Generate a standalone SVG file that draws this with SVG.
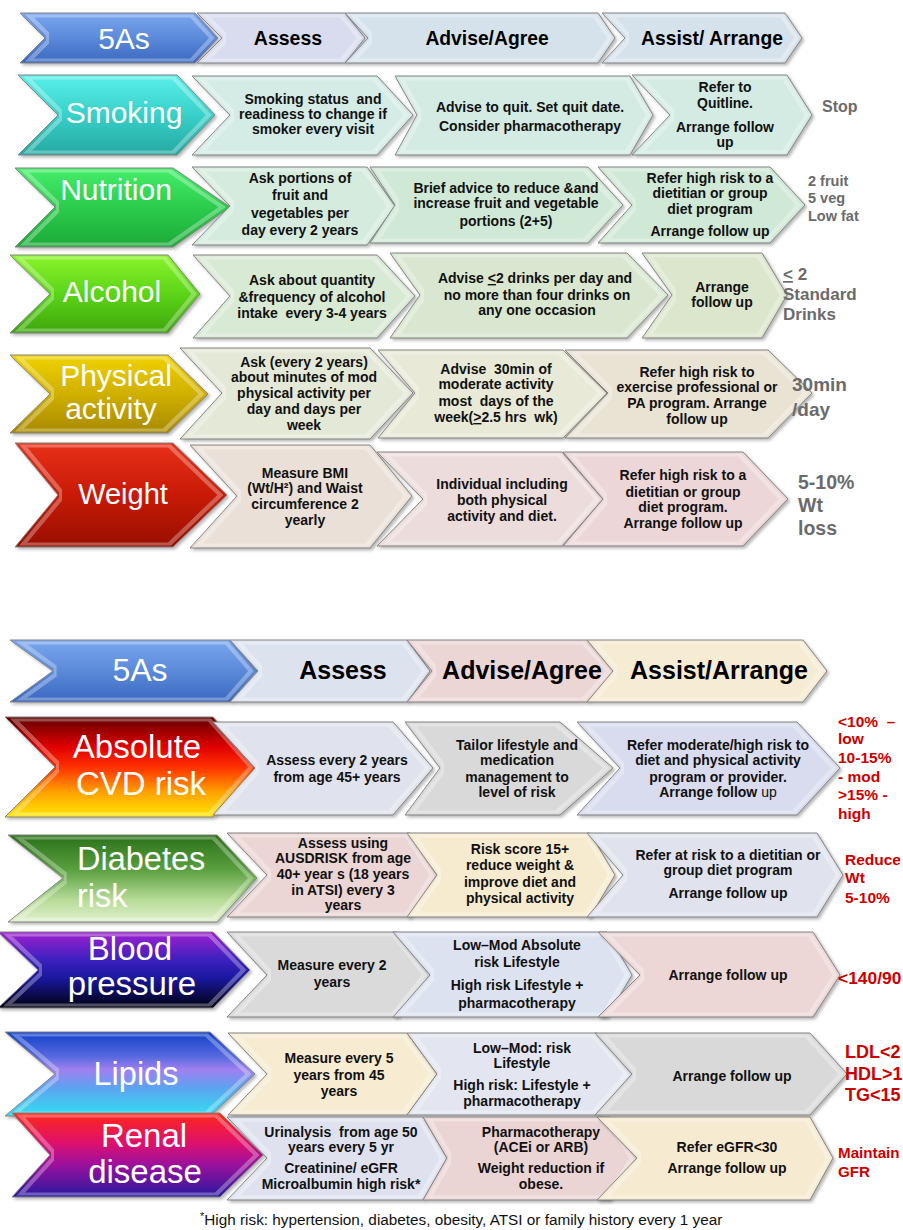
<svg xmlns="http://www.w3.org/2000/svg" width="903" height="1230" viewBox="0 0 903 1230">
<defs>
<style>
.cell{stroke:#858585;stroke-width:1;filter:url(#bv)}
.lab{font-family:"Liberation Sans",Arial,sans-serif;fill:#fff;text-anchor:middle}
.t{font-family:"Liberation Sans",Arial,sans-serif;font-weight:bold;fill:#111;text-anchor:middle;font-size:14px}
.hd{font-family:"Liberation Sans",Arial,sans-serif;font-weight:bold;fill:#000;text-anchor:middle}
.g{font-family:"Liberation Sans",Arial,sans-serif;font-weight:bold;fill:#6b6b6b}
.r{font-family:"Liberation Sans",Arial,sans-serif;font-weight:bold;fill:#cc0000}
.fn{font-family:"Liberation Sans",Arial,sans-serif;fill:#111;font-size:15.3px}
</style>
<filter id="bv" x="-4%" y="-6%" width="110%" height="118%" color-interpolation-filters="sRGB">
<feMorphology in="SourceAlpha" operator="erode" radius="1.5" result="e1"/>
<feMorphology in="SourceAlpha" operator="erode" radius="4.5" result="e2"/>
<feComposite in="e1" in2="e2" operator="out" result="ring"/>
<feFlood flood-color="#ffffff" flood-opacity="0.3"/>
<feComposite in2="ring" operator="in" result="hl"/>
<feOffset in="SourceAlpha" dx="1.5" dy="2" result="o"/>
<feGaussianBlur in="o" stdDeviation="1.5" result="ob"/>
<feFlood flood-color="#000" flood-opacity="0.28"/>
<feComposite in2="ob" operator="in" result="sh"/>
<feMerge><feMergeNode in="sh"/><feMergeNode in="SourceGraphic"/><feMergeNode in="hl"/></feMerge>
</filter>
<linearGradient id="gBlue" x1="0" y1="0" x2="0" y2="1"><stop offset="0" stop-color="#7aa6ee"/><stop offset="0.5" stop-color="#5b8ada"/><stop offset="1" stop-color="#3a68c0"/></linearGradient>
<linearGradient id="gTeal" x1="0" y1="0" x2="0" y2="1"><stop offset="0" stop-color="#5af0ea"/><stop offset="0.5" stop-color="#38d0c8"/><stop offset="1" stop-color="#25a8a2"/></linearGradient>
<linearGradient id="gGreen" x1="0" y1="0" x2="0" y2="1"><stop offset="0" stop-color="#45ee6a"/><stop offset="0.5" stop-color="#2ccc4c"/><stop offset="1" stop-color="#1caa38"/></linearGradient>
<linearGradient id="gLime" x1="0" y1="0" x2="0" y2="1"><stop offset="0" stop-color="#8af42a"/><stop offset="0.5" stop-color="#5cd418"/><stop offset="1" stop-color="#3ea60c"/></linearGradient>
<linearGradient id="gGold" x1="0" y1="0" x2="0" y2="1"><stop offset="0" stop-color="#f0d200"/><stop offset="0.5" stop-color="#d0b000"/><stop offset="1" stop-color="#a88a00"/></linearGradient>
<linearGradient id="gRed" x1="0" y1="0" x2="0" y2="1"><stop offset="0" stop-color="#e83018"/><stop offset="0.5" stop-color="#c81a06"/><stop offset="1" stop-color="#980e00"/></linearGradient>
<linearGradient id="gCVD" x1="0" y1="0" x2="0" y2="1"><stop offset="0" stop-color="#600000"/><stop offset="0.3" stop-color="#e00000"/><stop offset="0.5" stop-color="#ff3000"/><stop offset="0.75" stop-color="#ffa000"/><stop offset="1" stop-color="#ffe800"/></linearGradient>
<linearGradient id="gDiab" x1="0" y1="0" x2="0" y2="1"><stop offset="0" stop-color="#2a7018"/><stop offset="0.4" stop-color="#5aa040"/><stop offset="0.75" stop-color="#b8dc98"/><stop offset="1" stop-color="#e0f0cc"/></linearGradient>
<linearGradient id="gBP" x1="0" y1="0" x2="0" y2="1"><stop offset="0" stop-color="#a020d0"/><stop offset="0.35" stop-color="#4020c0"/><stop offset="0.6" stop-color="#1a18a0"/><stop offset="1" stop-color="#000010"/></linearGradient>
<linearGradient id="gLip" x1="0" y1="0" x2="0" y2="1"><stop offset="0" stop-color="#1040c8"/><stop offset="0.3" stop-color="#5a6ae0"/><stop offset="0.45" stop-color="#a080f0"/><stop offset="0.65" stop-color="#60a0f0"/><stop offset="1" stop-color="#30e0f0"/></linearGradient>
<linearGradient id="gRen" x1="0" y1="0" x2="0" y2="1"><stop offset="0" stop-color="#ff2818"/><stop offset="0.35" stop-color="#e0106c"/><stop offset="0.6" stop-color="#a0109c"/><stop offset="1" stop-color="#2818a0"/></linearGradient>
</defs>
<rect width="903" height="1230" fill="#fff"/>

<!-- TOP SECTION -->
<g id="top-5as"><polygon class="cell" fill="url(#gBlue)" points="20,13 195,13 218,38 195,63 20,63 45,38"/><text class="lab" x="124" y="49" font-size="30">5As</text></g>
<g id="top-assess"><polygon class="cell" fill="#d8dcee" points="197,13 345,13 365,38 345,63 197,63 222,38"/><text class="hd" x="288" y="45" font-size="19.5">Assess</text></g>
<g id="top-advise"><polygon class="cell" fill="#d6e2eb" points="345,13 598,13 615,38 598,63 345,63 368,38"/><text class="hd" x="487" y="45" font-size="19.3">Advise/Agree</text></g>
<g id="top-assist"><polygon class="cell" fill="#d6e2eb" points="602,13 785,13 802,38 785,63 602,63 625,38"/><text class="hd" x="712" y="45" font-size="19.3">Assist/ Arrange</text></g>

<g id="smoking"><polygon class="cell" fill="url(#gTeal)" points="18,75 177,75 215,115 177,155 18,155 58,115"/><text class="lab" x="124" y="123" font-size="30">Smoking</text></g>
<g id="smoking-assess"><polygon class="cell" fill="#d4ebe6" points="192,76 377,76 413,115 377,155 192,155 230,115"/><text class="t" xml:space="preserve" font-size="14.3"><tspan x="313" y="104">Smoking status  and</tspan><tspan x="313" y="119">readiness to change if</tspan><tspan x="313" y="134">smoker every visit</tspan></text></g>
<g id="smoking-advise"><polygon class="cell" fill="#d3ebe2" points="395,76 630,76 653,115 630,155 395,155 417,115"/><text class="t" font-size="14.2"><tspan x="530" y="112">Advise to quit. Set quit date.</tspan><tspan x="530" y="131">Consider pharmacotherapy</tspan></text></g>
<g id="smoking-assist"><polygon class="cell" fill="#d3ebe2" points="632,75 787,75 812,115 787,155 632,155 670,115"/><text class="t" font-size="14.3"><tspan x="725" y="92">Refer to</tspan><tspan x="725" y="108">Quitline.</tspan><tspan x="725" y="132">Arrange follow</tspan><tspan x="725" y="147">up</tspan></text></g>
<text class="g" x="822" y="112" font-size="16">Stop</text>

<g id="nutrition"><polygon class="cell" fill="url(#gGreen)" points="15,168 173,168 230,207 173,247 15,247 55,207"/><text class="lab" x="116" y="200" font-size="30">Nutrition</text></g>
<g id="nutrition-assess"><polygon class="cell" fill="#d4ebdd" points="192,167 367,167 395,206 367,245 192,245 230,206"/><text class="t" font-size="14.7"><tspan x="300" y="183">Ask portions of</tspan><tspan x="300" y="200">fruit and</tspan><tspan x="300" y="218">vegetables per</tspan><tspan x="300" y="235">day every 2 years</tspan></text></g>
<g id="nutrition-advise"><polygon class="cell" fill="#d0e8d6" points="370,167 588,167 623,205 588,243 370,243 395,205"/><text class="t" font-size="14.4"><tspan x="506" y="193">Brief advice to reduce &amp;and</tspan><tspan x="506" y="208">increase fruit and vegetable</tspan><tspan x="506" y="226">portions (2+5)</tspan></text></g>
<g id="nutrition-assist"><polygon class="cell" fill="#d0e8d6" points="598,167 770,167 805,205 770,243 598,243 632,205"/><text class="t" font-size="14.4"><tspan x="710" y="183">Refer high risk to a</tspan><tspan x="710" y="198">dietitian or group</tspan><tspan x="710" y="214">diet program</tspan><tspan x="710" y="236">Arrange follow up</tspan></text></g>
<text class="g" font-size="14.5"><tspan x="808" y="186">2 fruit</tspan><tspan x="808" y="203">5 veg</tspan><tspan x="808" y="221">Low fat</tspan></text>

<g id="alcohol"><polygon class="cell" fill="url(#gLime)" points="10,255 168,255 200,294 168,333 10,333 50,294"/><text class="lab" x="112" y="302" font-size="30">Alcohol</text></g>
<g id="alcohol-assess"><polygon class="cell" fill="#d8e9d4" points="193,255 377,255 415,296 377,338 193,338 230,296"/><text class="t" xml:space="preserve" font-size="14.8"><tspan x="312" y="285">Ask about quantity</tspan><tspan x="312" y="302">&amp;frequency of alcohol</tspan><tspan x="312" y="318">intake  every 3-4 years</tspan></text></g>
<g id="alcohol-advise"><polygon class="cell" fill="#d9e7d0" points="390,253 627,253 668,295 627,338 390,338 420,295"/><text class="t" font-size="14.8"><tspan x="535" y="283">Advise <tspan text-decoration="underline">&lt;</tspan>2 drinks per day and</tspan><tspan x="537" y="300">no more than four drinks on</tspan><tspan x="537" y="315">any one occasion</tspan></text></g>
<g id="alcohol-assist"><polygon class="cell" fill="#dce6cd" points="642,253 762,253 787,295 762,338 642,338 672,295"/><text class="t" font-size="14.4"><tspan x="722" y="292">Arrange</tspan><tspan x="722" y="307">follow up</tspan></text></g>
<text class="g" font-size="17"><tspan x="783" y="280"><tspan text-decoration="underline">&lt;</tspan> 2</tspan><tspan x="783" y="300">Standard</tspan><tspan x="783" y="320">Drinks</tspan></text>

<g id="physical-activity"><polygon class="cell" fill="url(#gGold)" points="10,355 168,355 208,394 168,433 10,433 50,394"/><text class="lab" font-size="30"><tspan x="116" y="386">Physical</tspan><tspan x="111" y="419">activity</tspan></text></g>
<g id="pa-assess"><polygon class="cell" fill="#e4e9d7" points="180,348 370,348 413,393 370,439 180,439 222,393"/><text class="t" font-size="14.4"><tspan x="304" y="367">Ask (every 2 years)</tspan><tspan x="304" y="382">about minutes of mod</tspan><tspan x="304" y="398">physical activity per</tspan><tspan x="304" y="414">day and days per</tspan><tspan x="304" y="430">week</tspan></text></g>
<g id="pa-advise"><polygon class="cell" fill="#e8e9d6" points="378,350 563,350 607,393 563,438 378,438 415,393"/><text class="t" xml:space="preserve" font-size="14.4"><tspan x="496" y="374">Advise  30min of</tspan><tspan x="496" y="389">moderate activity</tspan><tspan x="496" y="406">most  days of the</tspan><tspan x="496" y="422">week(<tspan text-decoration="underline">&gt;</tspan>2.5 hrs  wk)</tspan></text></g>
<g id="pa-assist"><polygon class="cell" fill="#e9e3d4" points="565,350 768,350 812,393 768,438 565,438 608,393"/><text class="t" font-size="14.4"><tspan x="697" y="377">Refer high risk to</tspan><tspan x="697" y="392">exercise professional or</tspan><tspan x="697" y="408">PA program. Arrange</tspan><tspan x="697" y="424">follow up</tspan></text></g>
<text class="g" font-size="19"><tspan x="792" y="391">30min</tspan><tspan x="792" y="416">/day</tspan></text>

<g id="weight"><polygon class="cell" fill="url(#gRed)" points="15,443 173,443 227,495 173,547 15,547 58,495"/><text class="lab" x="123" y="504" font-size="29">Weight</text></g>
<g id="weight-assess"><polygon class="cell" fill="#ebe0d7" points="190,445 370,445 412,496 370,548 190,548 237,496"/><text class="t" font-size="14.4"><tspan x="305" y="478">Measure BMI</tspan><tspan x="305" y="493">(Wt/H²) and Waist</tspan><tspan x="305" y="509">circumference 2</tspan><tspan x="305" y="525">yearly</tspan></text></g>
<g id="weight-advise"><polygon class="cell" fill="#ecdcdb" points="377,452 562,452 603,499 562,546 377,546 423,499"/><text class="t" font-size="14.4"><tspan x="502" y="489">Individual including</tspan><tspan x="502" y="505">both physical</tspan><tspan x="502" y="521">activity and diet.</tspan></text></g>
<g id="weight-assist"><polygon class="cell" fill="#ecd6d8" points="563,452 743,452 788,499 743,546 563,546 603,499"/><text class="t" font-size="14.4"><tspan x="683" y="480">Refer high risk to a</tspan><tspan x="683" y="497">dietitian or group</tspan><tspan x="683" y="512">diet program.</tspan><tspan x="683" y="528">Arrange follow up</tspan></text></g>
<text class="g" font-size="19.5"><tspan x="798" y="489">5-10%</tspan><tspan x="798" y="512">Wt</tspan><tspan x="798" y="535">loss</tspan></text>

<!-- BOTTOM SECTION -->
<g id="bot-5as"><polygon class="cell" fill="url(#gBlue)" points="10,640 230,640 257,671 230,702 10,702 53,671"/><text class="lab" x="140" y="681" font-size="32">5As</text></g>
<g id="bot-assess"><polygon class="cell" fill="#dde2ef" points="230,640 407,640 430,671 407,702 230,702 258,671"/><text class="hd" x="343" y="679" font-size="25">Assess</text></g>
<g id="bot-advise"><polygon class="cell" fill="#ecd5d5" points="407,640 587,640 615,671 587,702 407,702 432,671"/><text class="hd" x="522" y="679" font-size="25">Advise/Agree</text></g>
<g id="bot-assist"><polygon class="cell" fill="#f6ebd3" points="587,640 803,640 827,671 803,702 587,702 613,671"/><text class="hd" x="719" y="679" font-size="25">Assist/Arrange</text></g>

<g id="cvd"><polygon class="cell" fill="url(#gCVD)" points="5,717 213,717 257,767 213,817 5,817 55,767"/><text class="lab" font-size="33"><tspan x="137" y="758">Absolute</tspan><tspan x="141" y="795">CVD risk</tspan></text></g>
<g id="cvd-assess"><polygon class="cell" fill="#e0e3ed" points="213,722 393,722 433,768 393,815 213,815 255,768"/><text class="t" font-size="14"><tspan x="337" y="765">Assess every 2 years</tspan><tspan x="337" y="782">from age 45+ years</tspan></text></g>
<g id="cvd-advise"><polygon class="cell" fill="#d9d9d9" points="405,722 560,722 613,768 560,815 405,815 440,768"/><text class="t" font-size="14.2"><tspan x="517" y="750">Tailor lifestyle and</tspan><tspan x="517" y="765">medication</tspan><tspan x="517" y="782">management to</tspan><tspan x="517" y="797">level of risk</tspan></text></g>
<g id="cvd-assist"><polygon class="cell" fill="#d8dcee" points="577,722 797,722 840,768 797,815 577,815 620,768"/><text class="t" font-size="14"><tspan x="718" y="750">Refer moderate/high risk to</tspan><tspan x="718" y="765">diet and physical activity</tspan><tspan x="718" y="782">program or provider.</tspan><tspan x="718" y="797">Arrange follow <tspan font-weight="normal">up</tspan></tspan></text></g>
<text class="r" xml:space="preserve" font-size="15.5"><tspan x="838" y="727">&lt;10%  –</tspan><tspan x="838" y="744">low</tspan><tspan x="838" y="763">10-15%</tspan><tspan x="838" y="782">- mod</tspan><tspan x="838" y="800">&gt;15% -</tspan><tspan x="838" y="819">high</tspan></text>

<g id="diabetes"><polygon class="cell" fill="url(#gDiab)" points="8,835 217,835 257,878 217,922 8,922 63,878"/><text class="lab" font-size="32.5" style="text-anchor:start"><tspan x="77" y="870">Diabetes</tspan><tspan x="77" y="907">risk</tspan></text></g>
<g id="diabetes-assess"><polygon class="cell" fill="#ebd5d5" points="227,833 410,833 437,875 410,917 227,917 267,875"/><text class="t" font-size="14.2"><tspan x="343" y="848">Assess using</tspan><tspan x="343" y="863">AUSDRISK from age</tspan><tspan x="343" y="879">40+ year s (18 years</tspan><tspan x="343" y="895">in ATSI) every 3</tspan><tspan x="343" y="910">years</tspan></text></g>
<g id="diabetes-advise"><polygon class="cell" fill="#f6ebcf" points="407,833 590,833 615,875 590,917 407,917 437,875"/><text class="t" font-size="15.4"><tspan x="520" y="854">Risk score 15+</tspan><tspan x="520" y="870">reduce weight &amp;</tspan><tspan x="520" y="887">improve diet and</tspan><tspan x="520" y="903">physical activity</tspan></text></g>
<g id="diabetes-assist"><polygon class="cell" fill="#e0e3ed" points="587,833 817,833 843,875 817,917 587,917 623,875"/><text class="t" font-size="14.2"><tspan x="728" y="860">Refer at risk to a dietitian or</tspan><tspan x="728" y="875">group diet program</tspan><tspan x="728" y="898">Arrange follow up</tspan></text></g>
<text class="r" font-size="15.5"><tspan x="845" y="865">Reduce</tspan><tspan x="845" y="883">Wt</tspan><tspan x="845" y="903">5-10%</tspan></text>

<g id="blood-pressure"><polygon class="cell" fill="url(#gBP)" points="-2,932 213,932 250,970 213,1008 -2,1008 38,970"/><text class="lab" font-size="33"><tspan x="130" y="960">Blood</tspan><tspan x="132" y="995">pressure</tspan></text></g>
<g id="bp-assess"><polygon class="cell" fill="#dadada" points="227,932 397,932 430,975 397,1017 227,1017 267,975"/><text class="t" font-size="15.2"><tspan x="332" y="970">Measure every 2</tspan><tspan x="332" y="987">years</tspan></text></g>
<g id="bp-advise"><polygon class="cell" fill="#dde2f0" points="393,932 607,932 632,975 607,1017 393,1017 430,975"/><text class="t" font-size="15.2"><tspan x="517" y="950">Low–Mod Absolute</tspan><tspan x="517" y="967">risk Lifestyle</tspan><tspan x="517" y="990">High risk Lifestyle +</tspan><tspan x="517" y="1008">pharmacotherapy</tspan></text></g>
<g id="bp-assist"><polygon class="cell" fill="#ecd6d6" points="598,932 813,932 840,975 813,1017 598,1017 640,975"/><text class="t" x="728" y="980" font-size="15.3">Arrange follow up</text></g>
<text class="r" x="838" y="984" font-size="17.4">&lt;140/90</text>

<g id="lipids"><polygon class="cell" fill="url(#gLip)" points="5,1032 210,1032 255,1074 210,1116 5,1116 55,1074"/><text class="lab" x="136" y="1085" font-size="32.5">Lipids</text></g>
<g id="lipids-assess"><polygon class="cell" fill="#f7ebd2" points="228,1033 407,1033 437,1074 407,1115 228,1115 267,1074"/><text class="t" font-size="15.2"><tspan x="339" y="1063">Measure every 5</tspan><tspan x="339" y="1080">years from 45</tspan><tspan x="339" y="1096">years</tspan></text></g>
<g id="lipids-advise"><polygon class="cell" fill="#e3e6f0" points="407,1033 597,1033 632,1074 597,1115 407,1115 437,1074"/><text class="t" font-size="14.3"><tspan x="522" y="1053">Low–Mod: risk</tspan><tspan x="522" y="1068">Lifestyle</tspan><tspan x="522" y="1090">High risk: Lifestyle +</tspan><tspan x="522" y="1106">pharmacotherapy</tspan></text></g>
<g id="lipids-assist"><polygon class="cell" fill="#d9d9d9" points="595,1033 810,1033 847,1074 810,1115 595,1115 632,1074"/><text class="t" x="732" y="1081" font-size="15.3">Arrange follow up</text></g>
<text class="r" font-size="18"><tspan x="845" y="1058">LDL&lt;2</tspan><tspan x="845" y="1080">HDL&gt;1</tspan><tspan x="845" y="1101">TG&lt;15</tspan></text>

<g id="renal"><polygon class="cell" fill="url(#gRen)" points="12,1113 220,1113 263,1155 220,1197 12,1197 50,1155"/><text class="lab" font-size="33"><tspan x="144" y="1147">Renal</tspan><tspan x="145" y="1183">disease</tspan></text></g>
<g id="renal-assess"><polygon class="cell" fill="#dfe2ee" points="227,1117 423,1117 447,1158 423,1200 227,1200 267,1158"/><text class="t" xml:space="preserve" font-size="13.8"><tspan x="341" y="1137">Urinalysis  from age 50</tspan><tspan x="341" y="1152">years every 5 yr</tspan><tspan x="341" y="1173">Creatinine/ eGFR</tspan><tspan x="341" y="1189">Microalbumin high risk*</tspan></text></g>
<g id="renal-advise"><polygon class="cell" fill="#ebd4d4" points="423,1117 610,1117 637,1158 610,1200 423,1200 447,1158"/><text class="t" font-size="14"><tspan x="541" y="1137">Pharmacotherapy</tspan><tspan x="541" y="1152">(ACEi or ARB)</tspan><tspan x="541" y="1173">Weight reduction if</tspan><tspan x="541" y="1189">obese.</tspan></text></g>
<g id="renal-assist"><polygon class="cell" fill="#f6ead0" points="597,1117 810,1117 833,1158 810,1200 597,1200 637,1158"/><text class="t" font-size="14.1"><tspan x="727" y="1152">Refer eGFR&lt;30</tspan><tspan x="727" y="1173">Arrange follow up</tspan></text></g>
<text class="r" font-size="15.2"><tspan x="838" y="1158">Maintain</tspan><tspan x="838" y="1177">GFR</tspan></text>

<text class="fn" x="200" y="1225"><tspan font-size="11" dy="-5">*</tspan><tspan dy="5">High risk: hypertension, diabetes, obesity, ATSI or family history every 1 year</tspan></text>

<g id="connectors"></g>
</svg>
